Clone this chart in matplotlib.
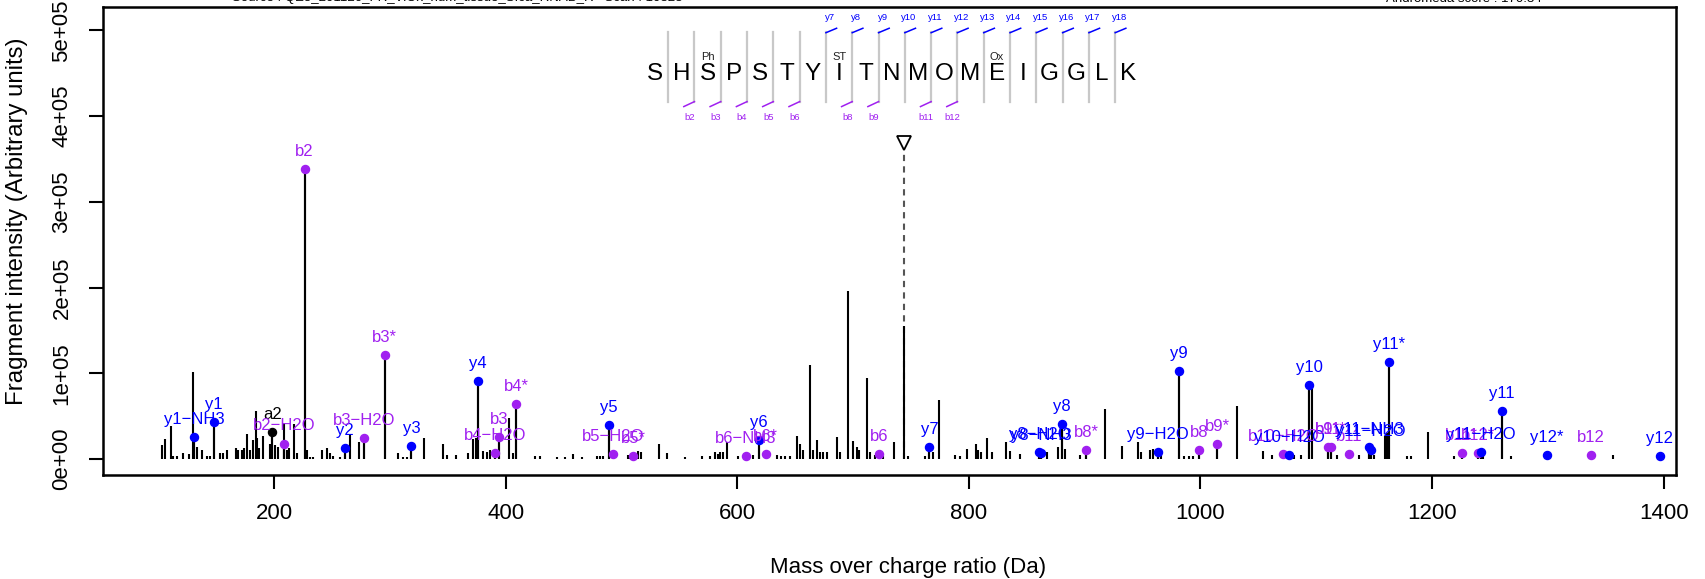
import matplotlib
matplotlib.use("Agg")
import matplotlib.pyplot as plt

plt.rcParams['font.family'] = ['Liberation Sans', 'DejaVu Sans']

# ---------------- data ----------------
peak_mz = [103.0, 105.9, 111.1, 113.1, 116.0, 121.1, 126.9, 130.3, 131.2, 133.2, 137.6, 141.9,
           144.8, 148.2, 153.4, 156.3, 159.1, 167.2, 169.2, 172.1, 174.1, 176.4, 179.3, 181.6,
           184.2, 185.1, 187.4, 190.2, 196.6, 198.5, 200.9, 203.8, 208.4, 209.0, 211.0, 213.0,
           217.6, 219.6, 226.5, 228.2, 231.1, 234.0, 241.2, 245.5, 248.4, 251.3, 257.0, 261.6,
           265.7, 273.7, 277.5, 295.6, 306.8, 311.7, 314.6, 318.6, 329.6, 346.3, 349.2, 357.2,
           367.9, 372.2, 374.5, 375.9, 380.8, 383.7, 386.6, 390.8, 394.0, 403.3, 406.2, 409.0,
           425.4, 429.8, 444.1, 451.3, 457.9, 465.7, 478.6, 481.5, 484.4, 489.3, 492.5, 506.0,
           507.5, 510.3, 514.6, 516.7, 532.8, 539.1, 555.0, 569.3, 576.5, 581.0, 583.0, 585.2,
           587.5, 591.0, 601.0, 607.6, 614.0, 618.6, 624.6, 634.1, 638.0, 641.0, 645.6, 651.4,
           654.3, 657.2, 663.2, 665.8, 668.7, 671.5, 674.4, 677.3, 686.0, 688.8, 695.4, 700.3,
           703.2, 705.5, 712.4, 714.7, 719.0, 722.8, 726.2, 735.7, 744.4, 747.8, 762.2, 766.0,
           768.9, 774.0, 788.0, 792.0, 798.0, 805.8, 808.2, 810.7, 815.4, 819.7, 832.1, 835.5,
           844.2, 861.0, 862.5, 867.2, 877.3, 880.2, 883.1, 896.0, 901.2, 917.6, 932.0, 946.4,
           949.0, 956.5, 959.4, 963.1, 965.6, 981.5, 986.0, 990.0, 994.0, 999.0, 1014.6, 1031.3,
           1053.7, 1062.0, 1071.6, 1076.8, 1081.0, 1087.0, 1094.0, 1096.5, 1110.5, 1112.5, 1118.0,
           1128.6, 1137.0, 1145.9, 1147.0, 1150.0, 1159.5, 1161.5, 1163.0, 1178.0, 1182.0, 1196.5,
           1219.0, 1225.5, 1240.0, 1242.0, 1244.0, 1260.5, 1268.0, 1299.0, 1337.5, 1356.0, 1396.5]
peak_int = [16, 23, 38, 3, 3, 7, 6, 101, 26, 14, 10, 3.5,
            3.5, 43, 6.6, 7.4, 10.5, 12.4, 10.5, 10.5, 12.4, 29, 10.5, 22,
            56, 24, 12.4, 27, 18, 31.5, 16, 14, 18, 42, 10.5, 12.4,
            41, 6.6, 338, 11, 2.7, 2.7, 11, 12.4, 6.6, 3.5, 2.7, 12.5,
            28, 20, 24, 121, 6.6, 2.7, 2.7, 15.5, 24, 18, 4.7, 4.7,
            6.6, 23, 24, 91, 9.7, 8.6, 10.5, 6.6, 26, 47.5, 6.6, 64,
            3.5, 3.5, 2.5, 2.5, 6.2, 2.5, 3.5, 3.5, 3.9, 39.7, 5.4, 5,
            5, 3.9, 9.7, 8, 17, 7, 2.5, 3.9, 3, 7.8, 6, 7.8,
            8, 20.2, 3.5, 3.9, 4.7, 21.8, 5.4, 5, 4, 4, 4, 26.5,
            17, 10, 110, 10.5, 21.8, 8.6, 8.6, 8.6, 25.7, 8, 196, 21,
            14, 10.5, 95, 8, 5, 5.4, 3.5, 19.5, 155.6, 4, 4, 14.4,
            8, 69, 5, 4, 11.7, 17, 10, 8, 25, 8, 19.5, 9.7,
            6, 7.8, 7, 8, 13.6, 40.8, 12, 5, 10.5, 58, 15, 19.5,
            8, 10, 12, 8.6, 5, 103, 4, 4, 4, 10.5, 17.5, 61.5,
            9.7, 5, 5.8, 5, 5, 5, 86.4, 84, 13.6, 13.6, 5,
            5.8, 5, 13.6, 11, 5, 27, 30, 112.8, 4, 4, 31,
            3, 7, 7, 8.6, 5, 56, 3.5, 4.7, 4.7, 4.7, 3.9]
peak_int = [v * 1000 for v in peak_int]

ann_mz = [131.2, 148.2, 198.5, 208.4, 226.5, 261.6, 277.5, 295.6, 318.6, 375.9, 390.8, 394.0,
          409.0, 489.3, 492.5, 510.3, 607.6, 618.6, 624.6, 722.8, 766.0, 861.0, 862.5, 880.2,
          901.2, 963.1, 981.5, 999.0, 1014.6, 1071.6, 1076.8, 1094.0, 1110.5, 1112.5, 1128.6,
          1145.9, 1147.0, 1163.0, 1225.5, 1240.0, 1242.0, 1260.5, 1299.0, 1337.5, 1396.5]
ann_int = [26, 43, 31.5, 18, 338, 12.5, 24, 121, 15.5, 91, 6.6, 26,
           64, 39.7, 5.4, 3.9, 3.9, 21.8, 5.4, 5.4, 14.4, 7.8, 7.0, 40.8,
           10.5, 8.6, 103, 10.5, 17.5, 5.8, 5.0, 86.4, 13.6, 13.6, 5.8,
           13.6, 11, 112.8, 7, 7, 8.6, 56, 4.7, 4.7, 3.9]
ann_int = [v * 1000 for v in ann_int]
ann_label = ["y1\u2212NH3", "y1", "a2", "b2\u2212H2O", "b2", "y2", "b3\u2212H2O", "b3*", "y3", "y4",
             "b4\u2212H2O", "b3", "b4*", "y5", "b5\u2212H2O", "b5*", "b6\u2212NH3", "y6", "b6*", "b6",
             "y7", "y8\u2212H2O", "y8\u2212NH3", "y8", "b8*", "y9\u2212H2O", "y9", "b8", "b9*",
             "b10\u2212H2O", "y10\u2212H2O", "y10", "b11", "b9**", "b11", "y11\u2212NH3",
             "y11\u2212H2O", "y11*", "b11*", "b12*", "y11\u2212H2O", "y11", "y12*", "b12", "y12"]
ann_ion = ["y", "y", "a", "b", "b", "y", "b", "b", "y", "y", "b", "b", "b", "y", "b", "b", "b",
           "y", "b", "b", "y", "y", "y", "y", "b", "y", "y", "b", "b", "b", "y", "y", "b", "b",
           "b", "y", "y", "y", "b", "b", "y", "y", "y", "b", "y"]

precursor_mz = 744.4

sequence = ["S", "H", "S", "P", "S", "T", "Y", "I", "T", "N", "M", "O", "M", "E", "I", "G",
            "G", "L", "K"]
mod_site = [2, 7, 13]
mod_text = ["Ph", "ST", "Ox"]
b_site = [2, 3, 4, 5, 6, 8, 9, 11, 12]
y_site = [7, 8, 9, 10, 11, 12, 13, 14, 15, 16, 17, 18]

x_ticks = [200, 400, 600, 800, 1000, 1200, 1400]
y_ticks = [0, 100000, 200000, 300000, 400000, 500000]
y_ticklabels = ["0e+00", "1e+05", "2e+05", "3e+05", "4e+05", "5e+05"]

title_left = "Source : QE5_201126_FR_ViOx_hum_tissue_Sfca_RNAB_R   Scan : 10823"
title_right = "Andromeda score : 170.34"
xlabel = "Mass over charge ratio (Da)"
ylabel = "Fragment intensity (Arbitrary units)"

# ---------------- style ----------------
ion_color = {"b": "#A020F0", "y": "#0000FF", "a": "#000000"}
W, H = 1706, 579

fig = plt.figure(figsize=(W / 100, H / 100), dpi=100)
ax = fig.add_axes([103 / W, 1 - 475 / H, (1676 - 103) / W, (475 - 7) / H])
ax.set_xlim(52.3, 1410.7)
ax.set_ylim(-18700, 527400)

# peaks
ax.vlines(peak_mz, 0, peak_int, color="black", lw=1.5, zorder=2)

# precursor marker
ax.plot([precursor_mz, precursor_mz], [0, 362000], color="#555555", lw=1.5,
        dashes=(3, 2.5), zorder=1)
ax.plot([precursor_mz], [369000], marker="v", markersize=10, mfc="white", mec="black",
        mew=1.3, ls="none", zorder=3)

# annotated ions
for mz, it, lab, ion in zip(ann_mz, ann_int, ann_label, ann_ion):
    c = ion_color[ion]
    ax.vlines([mz], 0, [it], color="black", lw=1.5, zorder=2)
    ax.plot([mz], [it], marker="o", markersize=5.8, color=c, mec=c, ls="none", zorder=4)
    ax.text(mz, it + 20500, lab, color=c, fontsize=12, ha="center", va="center", zorder=5)

# sequence annotation
seq_start, seq_step = 529.0, 22.71
for i, aa in enumerate(sequence):
    ax.text(seq_start + i * seq_step, 449000, aa, fontsize=17.5, ha="center", va="center",
            color="black")
for s, t in zip(mod_site, mod_text):
    ax.text(seq_start + s * seq_step, 469500, t, fontsize=8, ha="center", va="center",
            color="#222222")
for k in range(1, len(sequence)):
    xs = seq_start + (k - 0.5) * seq_step
    ax.plot([xs, xs], [417000, 498600], color="#C8C8C8", lw=1.6, zorder=1)
for k in y_site:
    xs = seq_start + (k - 0.5) * seq_step
    ax.plot([xs, xs + 9.2], [497400, 502600], color="#0000FF", lw=1.1)
    ax.text(xs + 3.5, 515500, "y%d" % k, color="#0000FF", fontsize=6.8, ha="center",
            va="center")
for k in b_site:
    xs = seq_start + (k - 0.5) * seq_step
    ax.plot([xs - 9.2, xs], [411200, 417000], color="#A020F0", lw=1.1)
    ax.text(xs - 4.3, 399000, "b%d" % k, color="#A020F0", fontsize=6.8, ha="center",
            va="center")

# axes styling
ax.set_xticks(x_ticks)
ax.set_xticklabels([str(v) for v in x_ticks])
ax.set_yticks(y_ticks)
ax.set_yticklabels(y_ticklabels, rotation=90, va="center")
ax.tick_params(axis="both", direction="out", length=10, width=1.5, labelsize=16)
ax.tick_params(axis="x", pad=10.5)
ax.tick_params(axis="y", pad=12)
for sp in ax.spines.values():
    sp.set_linewidth(1.8)

fig.text(908 / W, 1 - 568 / H, xlabel, fontsize=16, ha="center", va="center")
fig.text(16.7 / W, 1 - 221 / H, ylabel, fontsize=17.3, ha="center", va="center", rotation=90)
fig.text(457 / W, 1 - 1.5 / H, title_left, fontsize=9.5, ha="center", va="baseline")
fig.text(1464 / W, 1 - 1.5 / H, title_right, fontsize=9.5, ha="center", va="baseline")

fig.savefig("out.png", dpi=100)
